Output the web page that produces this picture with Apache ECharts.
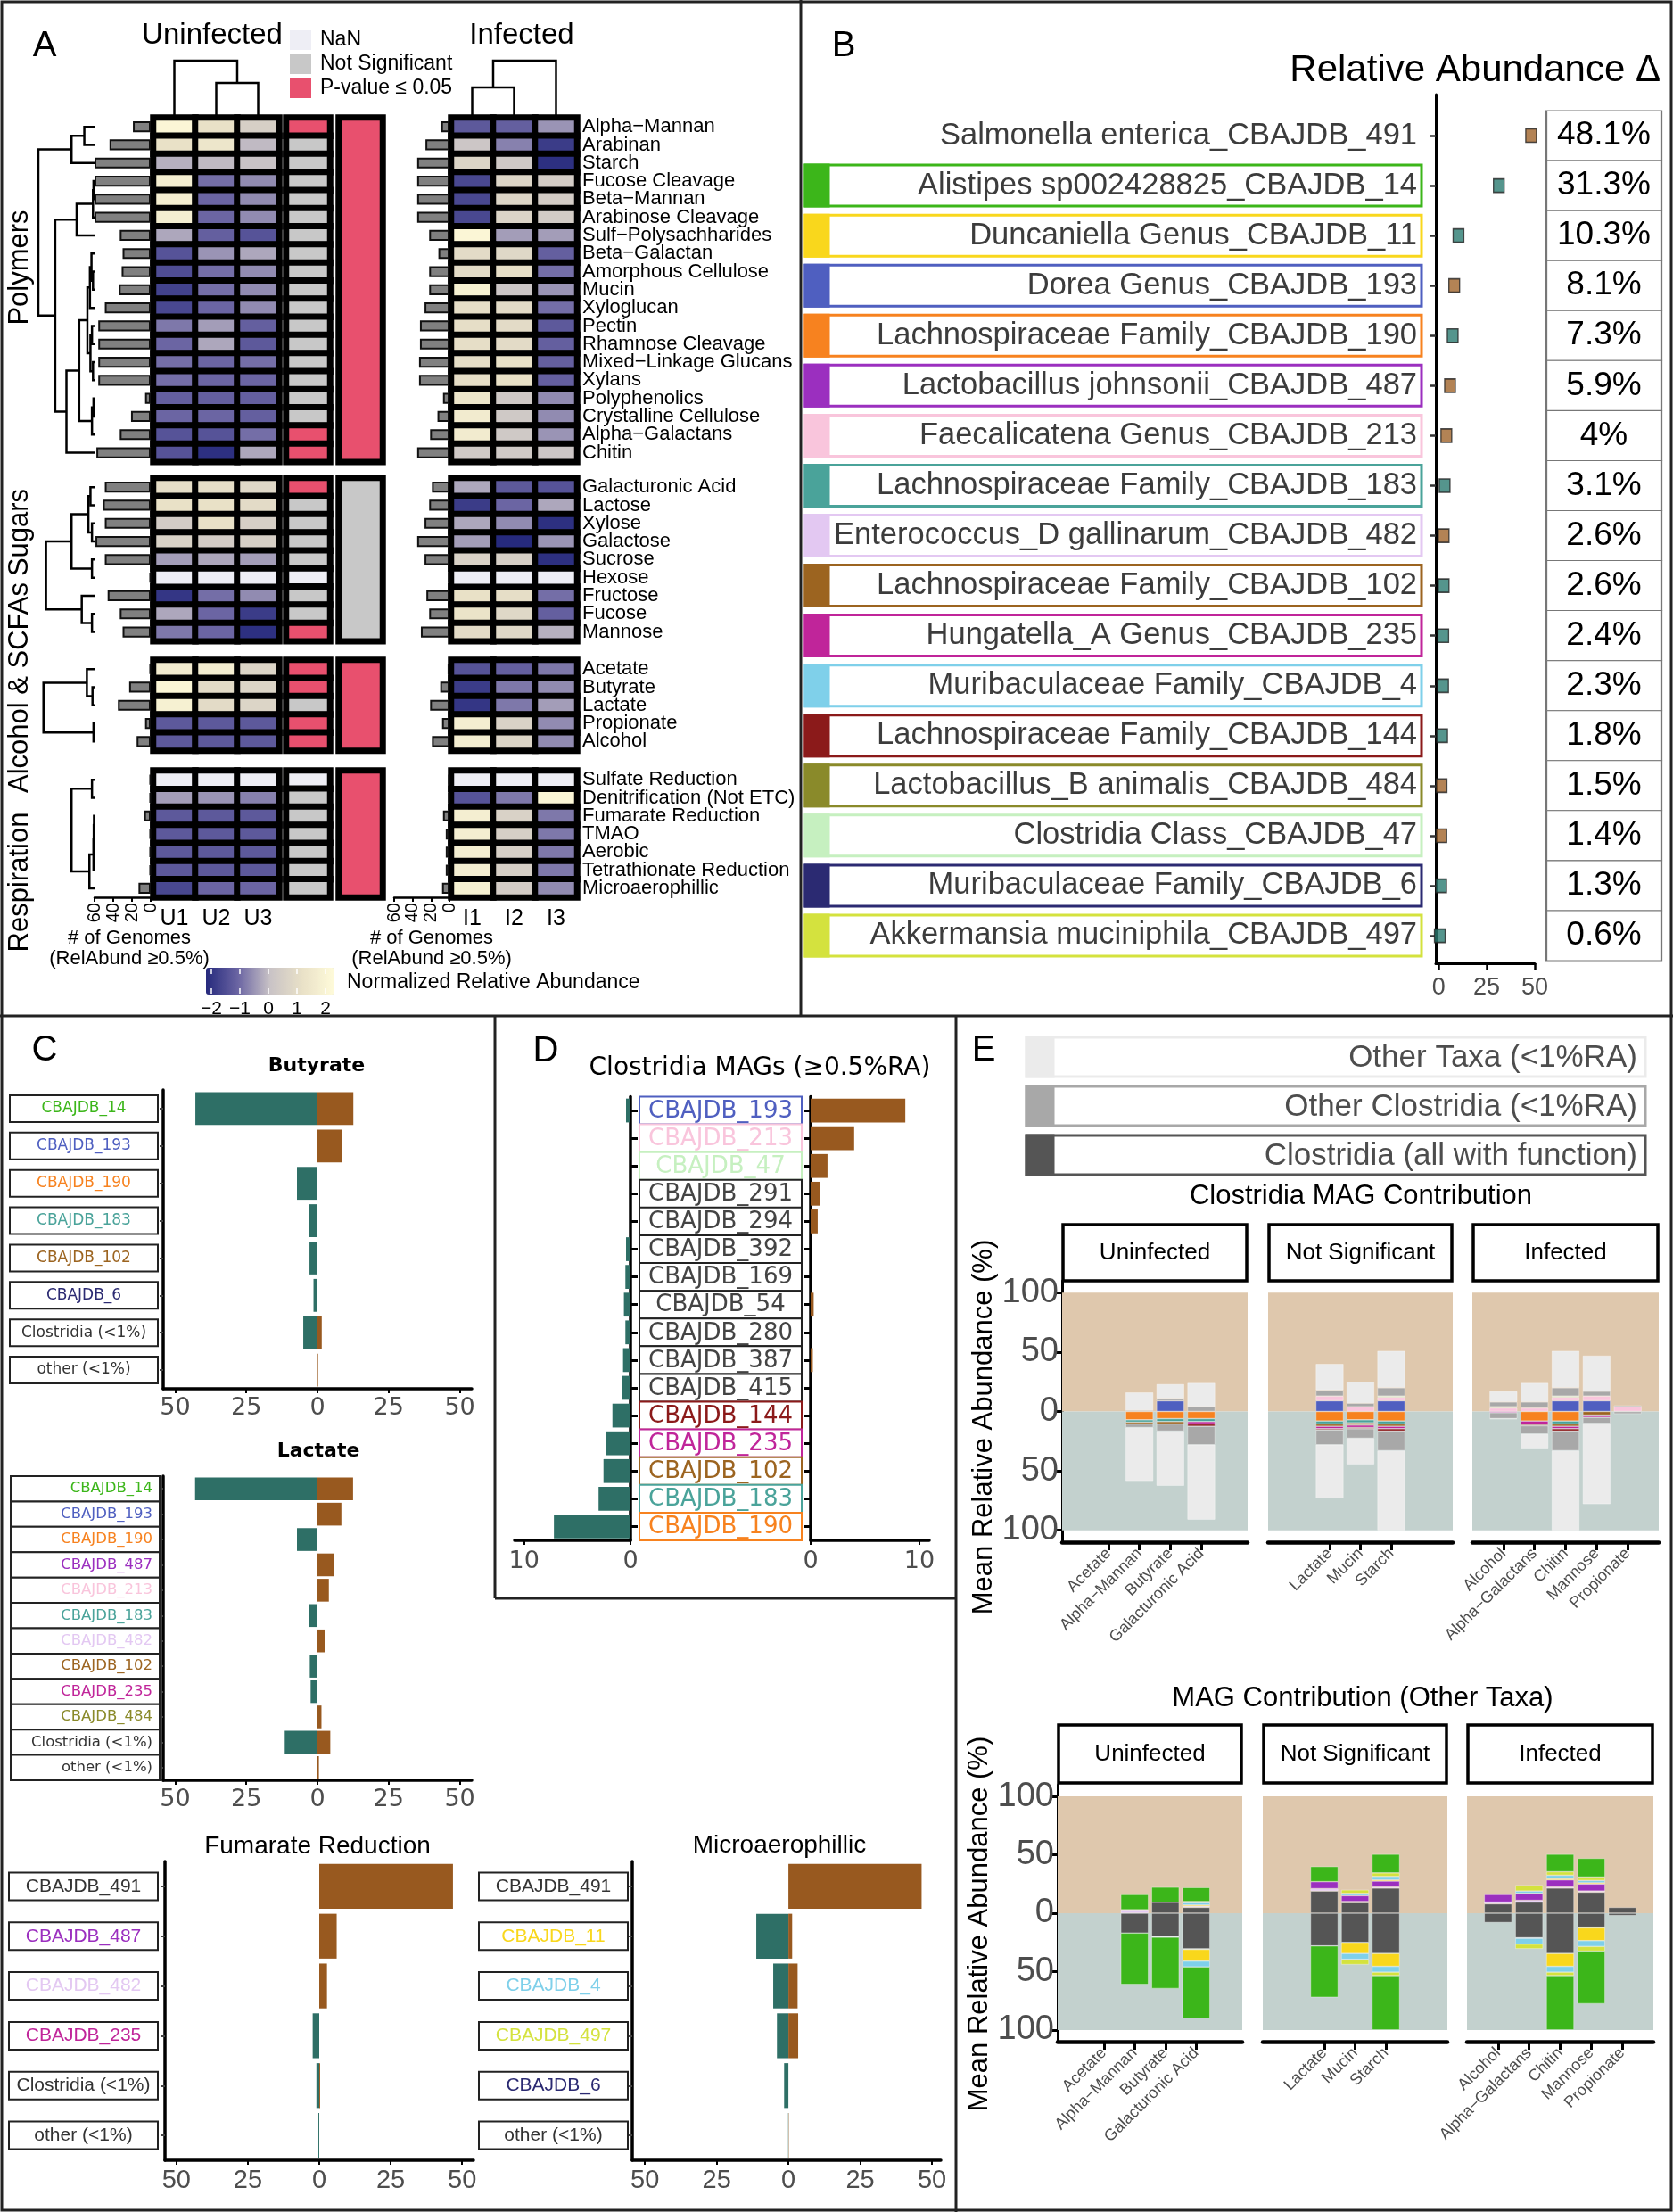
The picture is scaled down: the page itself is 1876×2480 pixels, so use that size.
<!DOCTYPE html>
<html><head><meta charset="utf-8">
<script src="https://cdn.jsdelivr.net/npm/echarts@6/dist/echarts.min.js"></script>
<style>html,body{margin:0;padding:0;background:#fff}#c{width:1876px;height:2480px}</style>
</head><body><div id="c"></div>
<script>
// ================= DATA =================
// ---- Panel A ----
const uninfectedCols = ['U1','U2','U3'];
const infectedCols = ['I1','I2','I3'];
const polymerRows = ['Alpha\u2212Mannan','Arabinan','Starch','Fucose Cleavage','Beta\u2212Mannan','Arabinose Cleavage','Sulf\u2212Polysachharides','Beta\u2212Galactan','Amorphous Cellulose','Mucin','Xyloglucan','Pectin','Rhamnose Cleavage','Mixed\u2212Linkage Glucans','Xylans','Polyphenolics','Crystalline Cellulose','Alpha\u2212Galactans','Chitin'];
const polymerU = [[1.8,1.0,0.4],[1.0,1.2,-0.1],[-0.2,-0.1,0.0],[1.5,-0.9,-0.6],[1.5,-1.0,-0.6],[1.5,-1.0,-0.6],[-0.3,-1.1,-1.3],[-1.3,-0.5,-0.3],[-1.4,-0.9,-0.6],[-1.6,-0.9,-0.6],[-1.5,-1.0,-0.6],[-0.8,-0.4,-1.1],[-1.0,-0.3,-1.2],[-0.9,-1.0,-0.9],[-0.9,-1.0,-1.0],[-1.1,-1.1,-1.1],[-1.0,-1.0,-1.1],[-1.3,-1.3,-0.9],[-1.3,-1.9,-0.3]];
const polymerI = [[-1.2,-1.1,-0.5],[0.1,-0.7,-1.7],[0.6,0.2,-1.9],[-1.5,0.6,0.3],[-1.5,0.6,0.3],[-1.5,0.6,0.3],[1.8,-0.4,-0.4],[0.8,0.7,-1.1],[0.8,0.9,-0.9],[1.6,0.1,-0.5],[0.9,0.8,-0.9],[0.9,0.8,-1.2],[0.9,0.8,-1.1],[0.9,1.0,-1.1],[0.9,1.0,-1.1],[1.2,0.2,-0.6],[1.4,0.2,-0.6],[1.4,0.2,-0.5],[0.2,0.2,0.1]];
const polymerGenomesU = [19,44,60,60,60,60,33,30,31,34,49,56,56,56,56,6,21,33,58];
const polymerGenomesI = [9,26,35,35,35,35,22,12,22,22,27,32,32,33,33,7,13,21,35];
const polymerSig = ['sig','ns','ns','ns','ns','ns','ns','ns','ns','ns','ns','ns','ns','ns','ns','ns','ns','sig','sig'];
const polymerOverall = 'sig';
const polymerTree = [[[0,1,20],2,45],[[[[3,4,2],5,3],6,35],[[[[[[8,9,3],7,6],10,9],[[11,12,5],[13,14,3],8],14],[[15,16,2],17,5],30],18,55],77],110];

const sugarRows = ['Galacturonic Acid','Lactose','Xylose','Galactose','Sucrose','Hexose','Fructose','Fucose','Mannose'];
const sugarU = [[0.9,0.9,0.7],[1.0,1.0,0.8],[0.3,1.0,0.4],[0.5,0.3,0.4],[-0.4,-0.3,-0.4],[null,null,null],[-1.8,-0.9,-0.6],[-0.3,-1.0,-1.7],[-0.8,-1.0,-1.9]];
const sugarI = [[-0.3,-1.2,-1.3],[-1.7,-1.0,-0.3],[-0.3,-0.6,-1.9],[-0.4,-2.0,-0.5],[0.5,0.4,-1.9],[null,null,null],[1.0,0.9,-0.9],[1.1,0.7,-1.1],[0.8,0.7,-0.2]];
const sugarGenomesU = [49,51,49,59,49,1,46,33,30];
const sugarGenomesI = [19,22,27,35,27,1,25,22,31];
const sugarSig = ['sig','ns','ns','ns','ns','nan','ns','ns','sig'];
const sugarOverall = 'ns';
const sugarTree = [[[[0,1,8],[2,3,5],12],[4,5,5],45],[6,[7,8,5],25],95];

const alcoholRows = ['Acetate','Butyrate','Lactate','Propionate','Alcohol'];
const alcoholU = [[1.4,1.5,0.6],[1.8,0.8,0.6],[1.6,0.8,0.6],[-1.2,-1.2,-1.2],[-1.2,-1.2,-1.2]];
const alcoholI = [[-1.3,-1.1,-0.8],[-1.7,-0.8,-0.6],[-1.8,-0.8,-0.4],[1.5,0.5,-0.6],[1.5,0.6,-0.6]];
const alcoholGenomesU = [1,23,35,6,15];
const alcoholGenomesI = [2,10,21,8,19];
const alcoholSig = ['sig','sig','ns','sig','sig'];
const alcoholOverall = 'sig';
const alcoholTree = [[0,[1,2,4],15],[3,4,2],100];

const respRows = ['Sulfate Reduction','Denitrification (Not ETC)','Fumarate Reduction','TMAO','Aerobic','Tetrathionate Reduction','Microaerophillic'];
const respU = [[null,null,null],[-0.4,-0.5,-0.7],[-1.2,-1.2,-1.2],[-1.2,-1.2,-1.2],[-1.2,-1.2,-1.2],[-1.2,-1.2,-1.2],[-1.5,-1.0,-1.0]];
const respI = [[null,null,null],[-1.3,-0.8,1.8],[1.5,0.5,-0.8],[1.5,0.4,-0.8],[1.5,0.4,-0.8],[1.5,0.4,-0.8],[1.6,0.3,-0.6]];
const respGenomesU = [1,1,7,1,1,1,13];
const respGenomesI = [1,1,7,4,4,4,8];
const respSig = ['nan','ns','ns','ns','ns','ns','ns'];
const respOverall = 'sig';
const respTree = [[0,1,5],[[[[2,3,1],4,1.5],5,2],6,10],45];

const uninfectedColTree = [0,[1,2,39],64];
const infectedColTree = [[0,1,34],2,64];
const genomeTicks = [0,20,40,60];
const colorbarTicks = [-2,-1,0,1,2];

// ---- Panel B ----
const taxaB = ['Salmonella enterica_CBAJDB_491','Alistipes sp002428825_CBAJDB_14','Duncaniella Genus_CBAJDB_11','Dorea Genus_CBAJDB_193','Lachnospiraceae Family_CBAJDB_190','Lactobacillus johnsonii_CBAJDB_487','Faecalicatena Genus_CBAJDB_213','Lachnospiraceae Family_CBAJDB_183','Enterococcus_D gallinarum_CBAJDB_482','Lachnospiraceae Family_CBAJDB_102','Hungatella_A Genus_CBAJDB_235','Muribaculaceae Family_CBAJDB_4','Lachnospiraceae Family_CBAJDB_144','Lactobacillus_B animalis_CBAJDB_484','Clostridia Class_CBAJDB_47','Muribaculaceae Family_CBAJDB_6','Akkermansia muciniphila_CBAJDB_497'];
const deltaB = [48.1,31.3,10.3,8.1,7.3,5.9,4,3.1,2.6,2.6,2.4,2.3,1.8,1.5,1.4,1.3,0.6];
const directionB = ['up','down','down','up','down','up','up','down','up','down','down','down','down','up','up','down','down'];
const ticksB = [0,25,50];

// ---- Panel C ----
const butyrateTaxa = ['CBAJDB_14','CBAJDB_193','CBAJDB_190','CBAJDB_183','CBAJDB_102','CBAJDB_6','Clostridia (<1%)','other (<1%)'];
const butyrateDown = [-42.9,0,-7.2,-3.1,-2.8,-1.4,-5.0,-0.2];
const butyrateUp = [12.6,8.5,0,0,0,0,1.5,0.2];
const lactateTaxa = ['CBAJDB_14','CBAJDB_193','CBAJDB_190','CBAJDB_487','CBAJDB_213','CBAJDB_183','CBAJDB_482','CBAJDB_102','CBAJDB_235','CBAJDB_484','Clostridia (<1%)','other (<1%)'];
const lactateDown = [-43,0,-7.2,0,0,-3.1,0,-2.7,-2.4,0,-11.5,-0.3];
const lactateUp = [12.5,8.4,0,5.9,4.0,0,2.5,0,0,1.4,4.5,0.5];
const fumarateTaxa = ['CBAJDB_491','CBAJDB_487','CBAJDB_482','CBAJDB_235','Clostridia (<1%)','other (<1%)'];
const fumarateDown = [0,0,0,-2.3,-1.0,-0.3];
const fumarateUp = [46.8,6.1,2.7,0,0.3,0];
const microTaxa = ['CBAJDB_491','CBAJDB_11','CBAJDB_4','CBAJDB_497','CBAJDB_6','other (<1%)'];
const microDown = [0,-11.2,-5.3,-4.0,-1.5,-0.1];
const microUp = [46.4,1.3,3.2,3.4,0,0.1];
const ticksC = [-50,-25,0,25,50];

// ---- Panel D ----
const clostTaxa = ['CBAJDB_193','CBAJDB_213','CBAJDB_47','CBAJDB_291','CBAJDB_294','CBAJDB_392','CBAJDB_169','CBAJDB_54','CBAJDB_280','CBAJDB_387','CBAJDB_415','CBAJDB_144','CBAJDB_235','CBAJDB_102','CBAJDB_183','CBAJDB_190'];
const clostUninfected = [0.42,0,0,0,0,0.42,0.48,0.62,0.48,0.7,0.8,1.7,2.34,2.54,3.0,7.2];
const clostInfected = [8.7,4.0,1.55,0.9,0.65,0,0,0.28,0,0.2,0,0,0,0,0,0];
const ticksD = [0,10];

// ---- Panel E ----
const eCats = ['Acetate','Alpha\u2212Mannan','Butyrate','Galacturonic Acid','Lactate','Mucin','Starch','Alcohol','Alpha\u2212Galactans','Chitin','Mannose','Propionate'];
const eFacetNames = ['Uninfected','Not Significant','Infected'];
const eFacetOf = [0,0,0,0,1,1,1,2,2,2,2,2];
const ticksE = [-100,-50,0,50,100];
// top: Clostridia MAG contribution
const topUp193 = [0,0,9,0,9,0,9,0,0,9,9,0];
const topUp213 = [0,0,0,0,4,4,3,3,3,3,4,4];
const topUp47 = [0,0,0,0,0,0,1,1,0,1,0,0];
const topUpOtherClost = [0,1,2,4,5,3,7,4,5,7,4,1];
const topUpOtherTaxa = [0,15,12,20,22,18,31,9,16,31,30,0];
const topDown190 = [0,-7,-6,-6,-8,-7,-8,0,-8,-8,0,0];
const topDown183 = [0,-2,-2.5,-2.5,-2.5,-2.5,-2.5,0,0,-2.5,0,0];
const topDown102 = [0,-1.5,-2,0,-2,-2,-2,0,0,-2,-3,0];
const topDown235 = [0,0,0,-2,-2,-2,-2,-1,-3,-2,-2,0];
const topDown144 = [0,0,0,-2,-1,-1,-2,0,-1,-2,0,0];
const topDownOtherClost = [0,-3,-6,-15.5,-12.5,-8,-16.5,-5,-7,-16.5,-5,-2];
const topDownOtherTaxa = [0,-45,-46,-63,-45,-22,-67,-0.5,-12,-67,-68,0];
// bottom: MAG contribution (other taxa)
const botUpClost = [0,0,9.3,5,19,9,21.5,8,9.5,21.5,18,5];
const botUp482 = [0,3,0,1,2,1,1,1.5,1.5,1,1,0];
const botUp487 = [0,0,0,0,6,5,5,6.5,6,6,6,0];
const botUp11 = [0,0,0,1,0,0,1,0,0,1,1,0];
const botUp4 = [0,0,0,2,0,2,3,0,2,3,2,0];
const botUp497 = [0,0,0,1,0,3,3,0,5,3,3,0];
const botUp14 = [0,13,13,12,13,0,16,0,0,15,16,0];
const botDownClost = [0,-17,-20,-30.5,-28,-25,-34.5,-8,-21,-34.5,-12,-2];
const botDown6 = [0,0,-0.5,-0.5,0,0,0,0,-0.5,0,-0.5,0];
const botDown11 = [0,0,0,-10,0,-9.5,-11,0,0,-11,-11,0];
const botDown4 = [0,0,0,-5,0,-5,-5,0,-5,-5,-5,0];
const botDown497 = [0,0,0,0,0,-4.5,-3,0,-4,-3,-4,0];
const botDown14 = [0,-44,-44,-44,-44,0,-46.5,0,0,-46.5,-45,0];

// ================= STYLES =================
const F = "'Liberation Sans', Arial, Helvetica, sans-serif";
const DJ = "'DejaVu Sans', Verdana, sans-serif";
const TAXON_COLOR = {'14':'#3cb61a','11':'#f9d71c','193':'#4f5fc0','190':'#f7821f','487':'#9b2fbf','213':'#f9c5dc','183':'#4aa39a','482':'#e3c8f2','102':'#9c6420','235':'#c0259a','4':'#7fd0ea','144':'#8b1a1a','484':'#8a8a2a','47':'#c6f0c0','6':'#2b2a72','497':'#d4e23e'};
const EXTRA_COLOR = {otherClost:'#a8a8a8', otherTaxa:'#ebebeb', clostAll:'#555555'};
const SIG = {sig:'#e8506e', ns:'#c8c8c8', nan:'#eeeef5'};
const TEAL = '#2e6f66', BROWN = '#98591f';
const DIR = {up:'#a0642a', down:'#2a7a70'};
function idOf(s){ const m = /_(\d+)$/.exec(s); return m ? m[1] : null; }
function colorOf(s, dflt){ const id = idOf(s); return (id && TAXON_COLOR[id]) || dflt; }

// ================= BUILDERS =================
const grids=[], xAxis=[], yAxis=[], series=[], graphic=[];
function grid(l,t,w,h,xa,ya,extra){ const i=grids.length; grids.push(Object.assign({left:l,top:t,width:w,height:h},extra||{})); xAxis.push(Object.assign({gridIndex:i},xa)); yAxis.push(Object.assign({gridIndex:i},ya)); return i; }
function addText(x,y,s,size,o){ o=o||{}; const al=o.align||'center';
  graphic.push({type:'text', x:x, y:y, rotation:o.rot||0, z:100, silent:true,
    style:{text:s, font:(o.bold?'bold ':'')+size+'px '+(o.family||F), fill:o.fill||'#000', textAlign:al, align:al, textVerticalAlign:'middle', verticalAlign:'middle'}}); }
function addRect(x,y,w,h,fill,stroke,lw){ graphic.push({type:'rect', z:90, silent:true, shape:{x:x,y:y,width:w,height:h}, style:{fill:fill||'none', stroke:stroke||null, lineWidth:lw||0}}); }
function addLine(x1,y1,x2,y2,color,lw){ graphic.push({type:'line', z:95, silent:true, shape:{x1:x1,y1:y1,x2:x2,y2:y2}, style:{stroke:color, lineWidth:lw}}); }
function dendro(tree){ const segs=[]; (function walk(n){ if(typeof n==='number') return {pos:n,h:0}; const a=walk(n[0]), b=walk(n[1]), h=n[2]; segs.push([[a.h,a.pos],[h,a.pos],[h,b.pos],[b.h,b.pos]]); return {pos:(a.pos+b.pos)/2,h:h}; })(tree); return segs; }
function linesSeries(g, segs){ series.push({type:'lines', coordinateSystem:'cartesian2d', xAxisIndex:g, yAxisIndex:g, polyline:true, silent:true, lineStyle:{color:'#000', width:2.5, opacity:1}, data:segs.map(c=>({coords:c}))}); }
function labelBoxes(g, labels, st){
  series.push({type:'custom', xAxisIndex:g, yAxisIndex:g, silent:true, z:5, data:labels.map((l,i)=>[0,i]),
    renderItem:function(params, api){
      const i=params.dataIndex, L=labels[i];
      const p0=api.coord([0,i]), p1=api.coord([1,i]);
      const h=st.boxH, y=p0[1]-h/2, x0=p0[0], x1=p1[0];
      const ch=[];
      if (L.border) ch.push({type:'rect', shape:{x:x0,y:y,width:x1-x0,height:h}, style:{fill:'#fff', stroke:L.border, lineWidth:st.lw}});
      if (L.strip) ch.push({type:'rect', shape:{x:x0,y:y,width:st.stripW,height:h}, style:{fill:L.strip, stroke:L.strip, lineWidth:st.lw}});
      const tx = st.align==='right' ? x1-st.pad : (x0+x1)/2;
      ch.push({type:'text', style:{text:L.text, x:tx, y:p0[1]+(st.dy||0), fill:L.color, font:st.font, textAlign:st.align, align:st.align, textVerticalAlign:'middle', verticalAlign:'middle'}});
      return {type:'group', children:ch};
    }});
}
const HID_VAL01 = {type:'value', min:0, max:1, show:false};

// ================= PANEL A =================
const blocks = [
  {label:'Polymers', rows:polymerRows, U:polymerU, I:polymerI, gU:polymerGenomesU, gI:polymerGenomesI, sig:polymerSig, big:polymerOverall, tree:polymerTree},
  {label:'Sugars', rows:sugarRows, U:sugarU, I:sugarI, gU:sugarGenomesU, gI:sugarGenomesI, sig:sugarSig, big:sugarOverall, tree:sugarTree},
  {label:'Alcohol & SCFAs', rows:alcoholRows, U:alcoholU, I:alcoholI, gU:alcoholGenomesU, gI:alcoholGenomesI, sig:alcoholSig, big:alcoholOverall, tree:alcoholTree},
  {label:'Respiration', rows:respRows, U:respU, I:respI, gU:respGenomesU, gI:respGenomesI, sig:respSig, big:respOverall, tree:respTree}
];
const blockTops = [132, 536, 740, 864];
const ROWH = 20.3;
const HEATGRID = {show:true, backgroundColor:'#000', borderColor:'#000', borderWidth:6};
const heatSeriesIdx = [];
function catY(rows){ return {type:'category', data:rows, inverse:true, show:false}; }
function genomeX(last){
  const base={type:'value', min:0, max:60, inverse:true, splitLine:{show:false}};
  if(!last) return Object.assign(base,{show:false});
  return Object.assign(base,{axisLine:{show:true, onZero:false, lineStyle:{color:'#000', width:2.5}}, axisTick:{show:true, customValues:genomeTicks, length:5, lineStyle:{color:'#000', width:2}}, axisLabel:{customValues:genomeTicks, rotate:90, fontSize:20, color:'#000', margin:6}});
}
function heatX(cols,last){ return {type:'category', data:cols, show:last, axisLine:{show:false}, axisTick:{show:false}, axisLabel:{fontSize:25, color:'#000', margin:12}}; }
function valData(m){ const d=[]; m.forEach((r,ri)=>r.forEach((v,c)=>{ if(v!==null) d.push([c,ri,v]); })); return d; }
function nanData(m){ const d=[]; m.forEach((r,ri)=>r.forEach((v,c)=>{ if(v===null) d.push([c,ri,0]); })); return d; }
function heatS(g,data,extra){ return Object.assign({type:'heatmap', xAxisIndex:g, yAxisIndex:g, data:data, silent:true, itemStyle:{borderColor:'#000', borderWidth:7}}, extra||{}); }
function genomeBar(g,vals){ return {type:'bar', xAxisIndex:g, yAxisIndex:g, data:vals, silent:true, barCategoryGap:'40%', itemStyle:{color:'#808080', borderColor:'#111', borderWidth:2}}; }

blocks.forEach((b,bi)=>{
  const top=blockTops[bi], n=b.rows.length, h=n*ROWH, last=bi===blocks.length-1;
  let g=grid(43,top,63,h,{type:'value',min:0,max:110,inverse:true,show:false},{type:'value',min:-0.5,max:n-0.5,inverse:true,show:false});
  linesSeries(g, dendro(b.tree));
  g=grid(106,top,63,h,genomeX(last),catY(b.rows));
  series.push(genomeBar(g,b.gU));
  g=grid(172,top,141,h,heatX(uninfectedCols,last),catY(b.rows),HEATGRID);
  heatSeriesIdx.push(series.length); series.push(heatS(g,valData(b.U)));
  series.push(heatS(g,nanData(b.U),{itemStyle:{color:SIG.nan, borderColor:'#000', borderWidth:7}}));
  g=grid(321,top,49,h,{type:'category',data:['p'],show:false},catY(b.rows),HEATGRID);
  series.push(heatS(g,b.sig.map((s,r)=>({value:[0,r,1],itemStyle:{color:SIG[s]}}))));
  g=grid(380,top,49,h,{type:'category',data:['all'],show:false},{type:'category',data:['all'],show:false},HEATGRID);
  series.push(heatS(g,[{value:[0,0,1],itemStyle:{color:SIG[b.big]}}]));
  g=grid(442,top,62,h,genomeX(last),catY(b.rows));
  series.push(genomeBar(g,b.gI));
  const yI=Object.assign(catY(b.rows),{show:true, position:'right', axisLine:{show:false}, axisTick:{show:false}, axisLabel:{interval:0, fontSize:22, color:'#000', margin:6}});
  g=grid(506,top,141,h,heatX(infectedCols,last),yI,HEATGRID);
  heatSeriesIdx.push(series.length); series.push(heatS(g,valData(b.I)));
  series.push(heatS(g,nanData(b.I),{itemStyle:{color:SIG.nan, borderColor:'#000', borderWidth:7}}));
});
let gc=grid(172,60,141,72,{type:'value',min:-0.5,max:2.5,show:false},{type:'value',min:0,max:72,show:false});
linesSeries(gc, dendro(uninfectedColTree).map(c=>c.map(p=>[p[1],p[0]])));
gc=grid(506,60,141,72,{type:'value',min:-0.5,max:2.5,show:false},{type:'value',min:0,max:72,show:false});
linesSeries(gc, dendro(infectedColTree).map(c=>c.map(p=>[p[1],p[0]])));

addText(50,52,'A',40);
addText(238,40,'Uninfected',33);
addText(585,40,'Infected',33);
[['NaN','nan',45],['Not Significant','ns',72],['P-value \u2264 0.05','sig',99]].forEach(([t,k,y])=>{ addRect(325,y-11,24,22,SIG[k],null,0); addText(359,y,t,23,{align:'left'}); });
addText(22,300,'Polymers',31,{rot:Math.PI/2});
addText(22,597,'Sugars',31,{rot:Math.PI/2});
addText(22,771,'Alcohol & SCFAs',31,{rot:Math.PI/2});
addText(22,989,'Respiration',31,{rot:Math.PI/2});
addText(145,1052,'# of Genomes',22); addText(145,1075,'(RelAbund \u22650.5%)',22);
addText(484,1052,'# of Genomes',22); addText(484,1075,'(RelAbund \u22650.5%)',22);
colorbarTicks.forEach((v,k)=>{ const x=237+32*k; addText(x,1131,(v<0?'\u2212':'')+Math.abs(v),21); addLine(x,1086,x,1092,'#fff',1.5); addLine(x,1108,x,1114,'#fff',1.5); });
addText(389,1102,'Normalized Relative Abundance',23,{align:'left'});

// ================= PANEL B =================
let g=grid(902,124,692,953,HID_VAL01,{type:'category',data:taxaB,inverse:true,show:false});
labelBoxes(g, taxaB.map(t=>{ const c=colorOf(t,null); return {text:t, color:'#3c3c3c', border:c, strip:c}; }), {boxH:46, lw:3, stripW:27, align:'right', pad:5, font:'34.5px '+F});
g=grid(1610,106,111,974,
  {type:'value',min:-1.5,max:50,splitLine:{show:false},axisLine:{show:true,onZero:false,lineStyle:{color:'#000',width:3}},axisTick:{show:true,customValues:ticksB,length:8,lineStyle:{color:'#000',width:2.5}},axisLabel:{customValues:ticksB,fontSize:27,color:'#4d4d4d',margin:14}},
  {type:'value',min:-0.82,max:16.55,inverse:true,splitLine:{show:false},axisLine:{show:true,onZero:false,lineStyle:{color:'#000',width:3}},axisTick:{show:true,customValues:taxaB.map((t,i)=>i),length:7,lineStyle:{color:'#333',width:2.5}},axisLabel:{show:false}});
series.push({type:'scatter', xAxisIndex:g, yAxisIndex:g, silent:true, symbol:'rect', symbolSize:[12,15], data:deltaB.map((v,i)=>({value:[v,i], itemStyle:{color:DIR[directionB[i]]}})), itemStyle:{borderColor:'#222', borderWidth:1.5}});
g=grid(1734,124,129,953,{type:'value',min:-1,max:1,show:false},{type:'category',data:taxaB,inverse:true,show:false});
series.push({type:'scatter', xAxisIndex:g, yAxisIndex:g, silent:true, symbol:'rect', symbolSize:[129,56], data:deltaB.map((v,i)=>[0,i,v]), itemStyle:{color:'#fff', borderColor:'#777', borderWidth:1.5, opacity:1}, label:{show:true, position:'inside', formatter:p=>p.value[2]+'%', fontSize:37, color:'#000', fontFamily:F}});
addText(946,52,'B',40);
addText(1862,79,'Relative Abundance \u0394',42,{align:'right'});

// ================= PANEL C =================
function cPanel(o){
  const gl=grid(o.labL,o.top,o.labW,o.h,HID_VAL01,{type:'category',data:o.taxa,inverse:true,show:false});
  labelBoxes(gl, o.taxa.map(t=>({text:t, color:colorOf(t,'#333'), border:'#222'})), {boxH:o.boxH, lw:2, align:o.align, pad:8, font:o.labFont});
  const gb=grid(o.left,o.top,o.w,o.h,
    {type:'value',min:o.min,max:o.max,splitLine:{show:false},axisLine:{show:true,onZero:false,lineStyle:{color:'#000',width:3.5}},axisTick:{show:true,customValues:ticksC,length:5,lineStyle:{color:'#000',width:2}},axisLabel:{customValues:ticksC,formatter:v=>String(Math.abs(v)),fontSize:o.tickSize,fontFamily:o.tickFam,color:'#4d4d4d',margin:8}},
    {type:'category',data:o.taxa,inverse:true,axisLine:{show:true,onZero:false,lineStyle:{color:'#000',width:3.5}},axisTick:{show:true,alignWithLabel:true,length:4,lineStyle:{color:'#444',width:2}},axisLabel:{show:false}});
  series.push({type:'bar', xAxisIndex:gb, yAxisIndex:gb, stack:'c'+gb, silent:true, data:o.down, barCategoryGap:o.gap, itemStyle:{color:TEAL}});
  series.push({type:'bar', xAxisIndex:gb, yAxisIndex:gb, stack:'c'+gb, silent:true, data:o.up, barCategoryGap:o.gap, itemStyle:{color:BROWN}});
}
cPanel({taxa:butyrateTaxa, down:butyrateDown, up:butyrateUp, left:183, top:1222, w:346, h:335, min:-54.2, max:54.2, labL:11, labW:166, boxH:30, align:'center', labFont:'17px '+DJ, tickSize:27, tickFam:DJ, gap:'12%'});
cPanel({taxa:lactateTaxa, down:lactateDown, up:lactateUp, left:183, top:1655, w:346, h:341, min:-54.2, max:54.2, labL:12, labW:167, boxH:28.4, align:'right', labFont:'16.5px '+DJ, tickSize:27, tickFam:DJ, gap:'10%'});
cPanel({taxa:fumarateTaxa, down:fumarateDown, up:fumarateUp, left:185, top:2087, w:346, h:335, min:-54, max:54, labL:10, labW:167, boxH:31, align:'center', labFont:'21px '+F, tickSize:29, tickFam:F, gap:'10%'});
cPanel({taxa:microTaxa, down:microDown, up:microUp, left:709, top:2087, w:346, h:335, min:-54.4, max:53.1, labL:537, labW:167, boxH:31, align:'center', labFont:'21px '+F, tickSize:29, tickFam:F, gap:'10%'});
addText(50,1178,'C',40);
addText(355,1195,'Butyrate',22,{bold:true,family:DJ});
addText(357,1627,'Lactate',22,{bold:true,family:DJ});
addText(356,2070,'Fumarate Reduction',28);
addText(874,2069,'Microaerophillic',28);

// ================= PANEL D =================
const dY = side=>({type:'category',data:clostTaxa,inverse:true,position:side,axisLine:{show:true,onZero:false,lineStyle:{color:'#000',width:3.5}},axisTick:{show:true,alignWithLabel:true,length:8,lineStyle:{color:'#000',width:3}},axisLabel:{show:false}});
const dX = inv=>({type:'value',min:0,max:10.9,inverse:inv,splitLine:{show:false},axisLine:{show:true,onZero:false,lineStyle:{color:'#000',width:3.5}},axisTick:{show:true,customValues:ticksD,length:5,lineStyle:{color:'#000',width:2}},axisLabel:{customValues:ticksD,fontSize:27,fontFamily:DJ,color:'#4d4d4d',margin:10}});
g=grid(577,1229.5,130,497.5,dX(true),dY('right'));
series.push({type:'bar', xAxisIndex:g, yAxisIndex:g, silent:true, data:clostUninfected, barCategoryGap:'14%', itemStyle:{color:TEAL}});
g=grid(909,1229.5,133,497.5,dX(false),dY('left'));
series.push({type:'bar', xAxisIndex:g, yAxisIndex:g, silent:true, data:clostInfected, barCategoryGap:'14%', itemStyle:{color:BROWN}});
g=grid(717,1229.5,182,497.5,HID_VAL01,{type:'category',data:clostTaxa,inverse:true,show:false});
labelBoxes(g, clostTaxa.map(t=>{ const c=colorOf(t,null); return {text:t, color:c||'#444', border:c||'#222'}; }), {boxH:31.1, lw:2, align:'center', font:'26px '+DJ, dy:1});
addText(612,1179,'D',40);
addText(852,1198,'Clostridia MAGs (\u22650.5%RA)',28,{family:DJ});

// ================= PANEL E =================
const topStack = [[topUp193,TAXON_COLOR['193']],[topUp213,TAXON_COLOR['213']],[topUp47,TAXON_COLOR['47']],[topUpOtherClost,EXTRA_COLOR.otherClost],[topUpOtherTaxa,EXTRA_COLOR.otherTaxa],
  [topDown190,TAXON_COLOR['190']],[topDown183,TAXON_COLOR['183']],[topDown102,TAXON_COLOR['102']],[topDown235,TAXON_COLOR['235']],[topDown144,TAXON_COLOR['144']],[topDownOtherClost,EXTRA_COLOR.otherClost],[topDownOtherTaxa,EXTRA_COLOR.otherTaxa]];
const botStack = [[botUpClost,EXTRA_COLOR.clostAll],[botUp482,TAXON_COLOR['482']],[botUp487,TAXON_COLOR['487']],[botUp11,TAXON_COLOR['11']],[botUp4,TAXON_COLOR['4']],[botUp497,TAXON_COLOR['497']],[botUp14,TAXON_COLOR['14']],
  [botDownClost,EXTRA_COLOR.clostAll],[botDown6,TAXON_COLOR['6']],[botDown11,TAXON_COLOR['11']],[botDown4,TAXON_COLOR['4']],[botDown497,TAXON_COLOR['497']],[botDown14,TAXON_COLOR['14']]];
const isSlot = v => typeof v==='string' && v.charAt(0)==='_';
function ePanel(stack, top, h, boxes, stripTop, stripH, tag){
  boxes.forEach((bx,fi)=>{
    const idx=eCats.map((c,i)=>i).filter(i=>eFacetOf[i]===fi);
    const start=(6-idx.length)/2+0.5;
    const half=Math.abs((start%1)-0.5)<1e-9;
    const nSlots=half?6:7, first=half?Math.round(start-0.5):start;
    const slots=[]; for(let s=0;s<nSlots;s++) slots.push('_'+s);
    idx.forEach((ci,k)=>{ slots[first+k]=eCats[ci]; });
    const ya = fi===0 ? {type:'value',min:-110,max:110,splitLine:{show:false},axisLine:{show:true,onZero:false,lineStyle:{color:'#000',width:3}},axisTick:{show:true,customValues:ticksE,length:8,lineStyle:{color:'#000',width:3}},axisLabel:{customValues:ticksE,formatter:v=>String(Math.abs(v)),fontSize:38,color:'#4d4d4d',margin:4}}
                      : {type:'value',min:-110,max:110,show:false};
    const gg=grid(bx[0],top,bx[1],h,
      {type:'category',data:slots,boundaryGap:half,axisLine:{show:true,onZero:false,lineStyle:{color:'#000',width:4.5}},axisTick:{show:true,alignWithLabel:true,interval:(i,v)=>!isSlot(v),length:9,lineStyle:{color:'#000',width:3}},axisLabel:{interval:(i,v)=>!isSlot(v),formatter:v=>isSlot(v)?'':v,rotate:45,fontSize:18,color:'#4d4d4d',margin:10}},
      ya);
    series.push({type:'line', xAxisIndex:gg, yAxisIndex:gg, silent:true, z:1, data:slots.map(()=>0), showSymbol:false, lineStyle:{width:0,opacity:0},
      markArea:{silent:true, data:[[{yAxis:0,itemStyle:{color:'#dfc8ad'}},{yAxis:100}],[{yAxis:-100,itemStyle:{color:'#c3d1ce'}},{yAxis:0}]]}});
    stack.forEach(([arr,col])=>{
      const vals=slots.map(()=> '-');
      idx.forEach((ci,k)=>{ const v=arr[ci]; vals[first+k]= v===0 ? '-' : v; });
      series.push({type:'bar', xAxisIndex:gg, yAxisIndex:gg, stack:tag+fi, silent:true, z:3, barWidth:31, data:vals, itemStyle:{color:col, borderColor:'rgba(255,255,255,0.6)', borderWidth:0.6}});
    });
    addRect(bx[0]+1,stripTop,bx[1]-2,stripH,'#fff','#000',3.5);
    addText(bx[0]+bx[1]/2,stripTop+stripH/2,eFacetNames[fi],26);
  });
}
ePanel(topStack,1436,293,[[1191,208],[1422,207],[1651,209]],1373,63,'t');
ePanel(botStack,2001,288,[[1186,207],[1416,207],[1645,209]],1934,65,'b');
addText(1103,1178,'E',40);
[['Other Taxa (<1%RA)',EXTRA_COLOR.otherTaxa,1163],['Other Clostridia (<1%RA)',EXTRA_COLOR.otherClost,1218],['Clostridia (all with function)',EXTRA_COLOR.clostAll,1273]].forEach(([t,c,y])=>{
  addRect(1151,y,694,44,'#fff',c,3); addRect(1151,y,30,44,c,c,3); addText(1836,y+23,t,35,{align:'right',fill:'#4d4d4d'}); });
addText(1526,1341,'Clostridia MAG Contribution',31);
addText(1528,1904,'MAG Contribution (Other Taxa)',31);
addText(1103,1600,'Mean Relative Abundance (%)',31,{rot:Math.PI/2});
addText(1098,2157,'Mean Relative Abundance (%)',31,{rot:Math.PI/2});

// ================= FRAMES =================
addRect(2,2,1872,2476,'none','#222',3);
addLine(898,0,898,1139,'#222',3);
addLine(0,1139,1876,1139,'#222',3);
addLine(555,1139,555,1792,'#222',3);
addLine(555,1792,1072,1792,'#222',3);
addLine(1072,1139,1072,2480,'#222',3);

// ================= RENDER =================
const chart = echarts.init(document.getElementById('c'), null, {renderer:'canvas', width:1876, height:2480});
chart.setOption({
  animation:false,
  backgroundColor:'#fff',
  textStyle:{fontFamily:F},
  grid:grids, xAxis:xAxis, yAxis:yAxis, series:series,
  visualMap:[{type:'continuous', min:-2, max:2, seriesIndex:heatSeriesIdx, orient:'horizontal', left:231, top:1085, itemWidth:30, itemHeight:144, padding:0, calculable:false, hoverLink:false, inRange:{color:['#262a7d','#6b65a3','#c9c3c6','#e9e1c7','#fffbda']}}],
  graphic:{elements:graphic}
});
</script></body></html>
